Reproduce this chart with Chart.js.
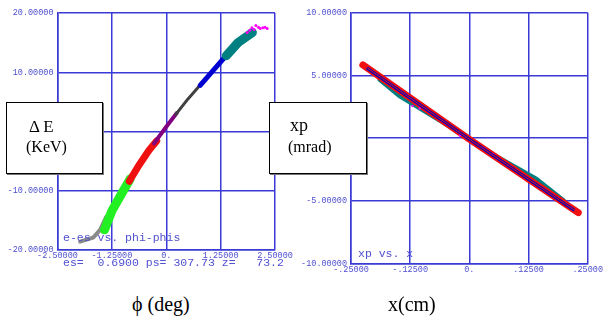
<!DOCTYPE html>
<html>
<head>
<meta charset="utf-8">
<script src="https://cdn.jsdelivr.net/npm/chart.js@4/dist/chart.umd.min.js"></script>
<style>
  body { margin: 0; background: #fff; width: 605px; height: 327px; position: relative; overflow: hidden; }
  .panel { position: absolute; }
  .mono { position: absolute; font-family: "Courier New", "Liberation Mono", monospace; color: #5050d0; white-space: pre; }
  .box { position: absolute; background: #fff; border: 1px solid #000; box-shadow: 1px 1px 0 #777; }
  .serif { position: absolute; font-family: "Liberation Serif", "Times New Roman", serif; color: #000; white-space: pre; }
</style>
</head>
<body>
<div class="panel" style="left:0;top:0;width:300px;height:275px"><canvas id="left" width="300" height="275"></canvas></div>
<div class="panel" style="left:290px;top:0;width:315px;height:290px"><canvas id="right" width="315" height="290"></canvas></div>

<div class="mono" style="left:63px;top:231px;font-size:11.5px">e-es vs. phi-phis</div>
<div class="mono" style="left:63px;top:256px;font-size:11.5px;width:227px;overflow:hidden">es=  0.6900 ps= 307.73 z=   73.2   -</div>
<div class="mono" style="left:358px;top:247px;font-size:11.5px">xp vs. x</div>

<div class="box" style="left:6px;top:102px;width:95px;height:70px"></div>
<div class="serif" style="left:29px;top:117px;font-size:17px">Δ E</div>
<div class="serif" style="left:26px;top:138px;font-size:16px">(KeV)</div>

<div class="box" style="left:269px;top:102px;width:96px;height:70px"></div>
<div class="serif" style="left:290px;top:115px;font-size:18px">xp</div>
<div class="serif" style="left:288px;top:138px;font-size:16px">(mrad)</div>

<div class="serif" style="left:132px;top:293px;font-size:20px">ϕ (deg)</div>
<div class="serif" style="left:388px;top:293px;font-size:20px">x(cm)</div>

<script>
// left panel: e-es vs phi-phis
let leftXTicks = [-2.5, -1.25, 0, 1.25, 2.5];
let leftXLabels = ["-2.50000", "-1.25000", "0.", "1.25000", "2.50000"];
let leftYTicks = [-20, -10, 0, 10, 20];
let leftYLabels = ["-20.00000", "-10.00000", "0.", "10.00000", "20.00000"];

let grayLowPhi = [-1.98, -1.85, -1.68, -1.52, -1.38];
let grayLowDE = [-18.6, -18.3, -17.9, -16.6, -14.4];
let greenPhi = [-1.42, -1.25, -1.05, -0.83];
let greenDE = [-16.6, -13.4, -10.8, -8.0];
let redPhi = [-0.85, -0.62, -0.40, -0.22];
let redDE = [-8.4, -5.6, -3.2, -1.6];
let purplePhi = [-0.28, 0.0, 0.24];
let purpleDE = [-2.0, 0.8, 3.1];
let darkPhi = [0.22, 0.50, 0.81];
let darkDE = [2.9, 5.5, 8.1];
let bluePhi = [0.78, 1.10, 1.40];
let blueDE = [7.8, 10.5, 13.0];
let tealPhi = [1.38, 1.65, 1.98];
let tealDE = [12.8, 15.0, 16.7];
let magentaPhi = [1.86, 1.92, 1.97, 2.02, 2.06, 2.12, 2.16, 2.22, 2.27, 2.32];
let magentaDE = [16.7, 17.1, 17.5, 17.2, 17.9, 17.6, 17.4, 17.5, 17.6, 17.4];

// right panel: xp vs x
let rightXTicks = [-0.25, -0.125, 0, 0.125, 0.25];
let rightXLabels = ["-.25000", "-.12500", "0.", ".12500", ".25000"];
let rightYTicks = [-10, -5, 0, 5, 10];
let rightYLabels = ["-10.00000", "-5.00000", "0.", "5.00000", "10.00000"];

let redX = [-0.225, 0.0, 0.23];
let redXP = [5.83, -0.1, -5.96];
let blueX = [-0.215, 0.0, 0.22];
let blueXP = [5.55, -0.1, -5.72];
let tealX = [-0.19, -0.1465, -0.05, 0.05, 0.142, 0.20];
let tealXP = [4.65, 3.3, 1.1, -1.3, -3.25, -5.0];
let pinkX = [-0.12, -0.105, -0.02, 0.01, 0.03, 0.05];
let pinkXP = [2.55, 2.35, 0.2, -0.35, -0.8, -1.3];

function pts(xs, ys) {
  return xs.map((x, i) => ({ x: x, y: ys[i] }));
}

function band(xs, ys, color, width) {
  return {
    data: pts(xs, ys),
    showLine: true,
    borderColor: color,
    backgroundColor: color,
    borderWidth: width,
    pointRadius: 0,
    borderCapStyle: "round",
    borderJoinStyle: "round",
  };
}

function dots(xs, ys, color, r) {
  return { data: pts(xs, ys), backgroundColor: color, borderWidth: 0, pointRadius: r };
}

let tickFont = { family: "'Courier New', 'Liberation Mono', monospace", size: 8.5 };
let tickColor = "#5050d0";
let gridColor = "#3a3ad6";

function axis(min, max, tickVals, tickLabels, isY, fitSize, pad) {
  return {
    type: "linear",
    min: min,
    max: max,
    afterBuildTicks: (s) => { s.ticks = tickVals.map((v) => ({ value: v })); },
    afterFit: (s) => { if (isY) s.width = fitSize; else s.height = fitSize; },
    ticks: {
      callback: (v, i) => tickLabels[i],
      font: tickFont,
      color: tickColor,
      padding: pad,
      autoSkip: false,
      maxRotation: 0,
    },
    grid: { color: gridColor, lineWidth: 1.5, drawTicks: false },
    border: { color: gridColor, width: 1.5 },
  };
}

function opts(xAxis, yAxis, padding) {
  return {
    responsive: false,
    animation: false,
    layout: { padding: padding },
    plugins: { legend: { display: false }, tooltip: { enabled: false } },
    scales: { x: xAxis, y: yAxis },
  };
}

// first dataset in the list ends up on top
new Chart("left", {
  type: "scatter",
  data: {
    datasets: [
      dots(magentaPhi, magentaDE, "#ff00ff", 1.5),
      band(tealPhi, tealDE, "#008080", 9),
      band(bluePhi, blueDE, "#0000d0", 5),
      band(darkPhi, darkDE, "#404040", 3),
      band(purplePhi, purpleDE, "#800080", 4),
      band(redPhi, redDE, "#f01010", 7),
      band(greenPhi, greenDE, "#22f022", 9),
      band(grayLowPhi, grayLowDE, "#8a8a8a", 4),
    ],
  },
  options: opts(
    axis(-2.5, 2.5, leftXTicks, leftXLabels, false, 25, 1),
    axis(-20, 20, leftYTicks, leftYLabels, true, 57.5, 4),
    { left: 0, right: 25, top: 13, bottom: 0 }
  ),
});

new Chart("right", {
  type: "scatter",
  data: {
    datasets: [
      band(redX, redXP, "#f01010", 1),
      band(blueX, blueXP, "#0000c0", 3),
      dots(pinkX, pinkXP, "#ff00ff", 1.2),
      band(redX, redXP, "#f01010", 7),
      band(tealX, tealXP, "#008080", 4),
    ],
  },
  options: opts(
    axis(-0.25, 0.25, rightXTicks, rightXLabels, false, 26.7, 1),
    axis(-10, 10, rightYTicks, rightYLabels, true, 61, 4),
    { left: 0, right: 17.3, top: 12.7, bottom: 0 }
  ),
});
</script>
</body>
</html>
